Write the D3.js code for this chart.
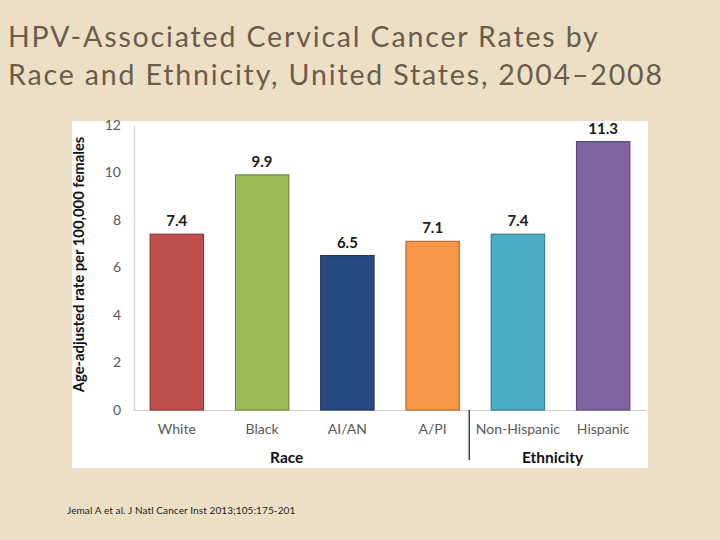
<!DOCTYPE html>
<html>
<head>
<meta charset="utf-8">
<script src="https://cdn.jsdelivr.net/npm/d3@7"></script>
<style>
  html, body { margin: 0; padding: 0; background: #EDDFC6; }
  svg { display: block; }
</style>
</head>
<body>
<svg id="chart" width="720" height="540"></svg>
<script>
const categories = ["White", "Black", "AI/AN", "A/PI", "Non-Hispanic", "Hispanic"];
const rates = [7.4, 9.9, 6.5, 7.1, 7.4, 11.3];
const barColors = ["#C0504D", "#9BBB59", "#254A7F", "#F79646", "#4BACC6", "#8064A2"];
const strokeColors = ["#8C3836", "#71893F", "#1A355B", "#B66D31", "#357E91", "#5C4876"];
const yTicks = [0, 2, 4, 6, 8, 10, 12];
const groups = [
  { name: "Race", members: ["White", "Black", "AI/AN", "A/PI"] },
  { name: "Ethnicity", members: ["Non-Hispanic", "Hispanic"] }
];
const titleLines = ["HPV-Associated Cervical Cancer Rates by", "Race and Ethnicity, United States, 2004\u20132008"];
const yAxisTitle = "Age-adjusted rate per 100,000 females";
const citation = "Jemal A et al. J Natl Cancer Inst 2013;105:175-201";

const svg = d3.select("#chart");
const chartFont = "Lato, 'Open Sans', sans-serif";
const slideFont = "Lato, 'DejaVu Sans', sans-serif";

// background
svg.append("rect").attr("width", 720).attr("height", 540).attr("fill", "#EDDFC6");

// title
svg.append("g").selectAll("text").data(titleLines).join("text")
  .attr("x", 8)
  .attr("y", (d, i) => 47 + i * 38)
  .attr("font-family", slideFont)
  .attr("font-size", 28.5)
  .attr("letter-spacing", 1.85)
  .attr("fill", "#6B5C4B")
  .text(d => d);

// white chart panel
svg.append("rect")
  .attr("x", 72).attr("y", 121).attr("width", 576).attr("height", 347)
  .attr("fill", "#FFFFFF");

const x = d3.scaleBand().domain(categories).range([134, 646]).paddingInner(0.375).paddingOuter(0.19);
const y = d3.scaleLinear().domain([0, 12]).range([410, 125]);

// y axis
const yAxis = svg.append("g")
  .attr("transform", `translate(${x.range()[0]},0)`)
  .call(d3.axisLeft(y).tickValues(yTicks).tickSize(0).tickPadding(13));
yAxis.select(".domain").attr("stroke", "#D0D0D0").attr("stroke-width", 1.2);
yAxis.selectAll("text").attr("font-family", chartFont).attr("font-size", 14).attr("fill", "#595959");

// x axis
const xAxis = svg.append("g")
  .attr("transform", `translate(0,${y(0)})`)
  .call(d3.axisBottom(x).tickSize(0).tickPadding(14));
xAxis.select(".domain").attr("stroke", "#D0D0D0").attr("stroke-width", 1.2);
xAxis.selectAll("text").attr("font-family", chartFont).attr("font-size", 14).attr("fill", "#595959");

// bars
svg.append("g").selectAll("rect").data(categories).join("rect")
  .attr("x", d => x(d))
  .attr("y", (d, i) => y(rates[i]))
  .attr("width", x.bandwidth())
  .attr("height", (d, i) => y(0) - y(rates[i]))
  .attr("fill", (d, i) => barColors[i])
  .attr("stroke", (d, i) => strokeColors[i])
  .attr("stroke-width", 1.2);

// value labels
svg.append("g").selectAll("text").data(categories).join("text")
  .attr("x", d => x(d) + x.bandwidth() / 2)
  .attr("y", (d, i) => y(rates[i]) - 8)
  .attr("text-anchor", "middle")
  .attr("font-family", chartFont)
  .attr("font-size", 15)
  .attr("font-weight", "bold")
  .attr("fill", "#1A1A1A")
  .text((d, i) => rates[i].toFixed(1));

// group labels
const groupOffsets = { "Race": -18, "Ethnicity": -8 };
svg.append("g").selectAll("text").data(groups).join("text")
  .attr("x", g => {
    const first = x(g.members[0]);
    const last = x(g.members[g.members.length - 1]) + x.bandwidth();
    return (first + last) / 2 + groupOffsets[g.name];
  })
  .attr("y", 463)
  .attr("text-anchor", "middle")
  .attr("font-family", chartFont)
  .attr("font-size", 15.5)
  .attr("font-weight", "bold")
  .attr("fill", "#111")
  .text(g => g.name);

// divider between groups
const divX = (x("A/PI") + x.bandwidth() + x("Non-Hispanic")) / 2 - 6;
svg.append("line")
  .attr("x1", divX).attr("x2", divX)
  .attr("y1", y(0)).attr("y2", 460)
  .attr("stroke", "#404040").attr("stroke-width", 1.5);

// y axis title
svg.append("text")
  .attr("transform", `translate(84,${(y(0) + y(12)) / 2 - 3}) rotate(-90)`)
  .attr("text-anchor", "middle")
  .attr("font-family", chartFont)
  .attr("font-size", 14.8)
  .attr("font-weight", "bold")
  .attr("fill", "#111")
  .text(yAxisTitle);

// citation
svg.append("text")
  .attr("x", 67).attr("y", 514)
  .attr("font-family", slideFont)
  .attr("font-size", 10)
  .attr("letter-spacing", 0.1)
  .attr("fill", "#222")
  .text(citation);
</script>
</body>
</html>
